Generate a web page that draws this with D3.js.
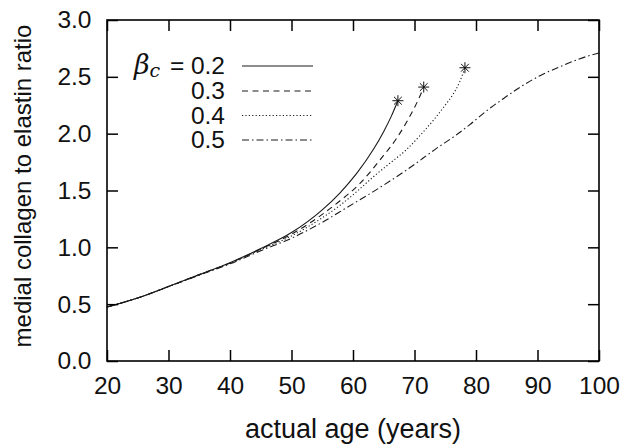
<!DOCTYPE html>
<html>
<head>
<meta charset="utf-8">
<script src="https://cdn.jsdelivr.net/npm/d3@7/dist/d3.min.js"></script>
<style>
  html, body { margin: 0; padding: 0; background: #fff; }
  svg { display: block; }
  text { font-family: "Liberation Sans", Arial, Helvetica, sans-serif; fill: #111; }
</style>
</head>
<body>
<svg id="chart" width="629" height="448"></svg>
<script>
// ---------- data ----------
const xTicks = [20, 30, 40, 50, 60, 70, 80, 90, 100];
const yTicks = [0.0, 0.5, 1.0, 1.5, 2.0, 2.5, 3.0];
const betaLabels = ["0.2", "0.3", "0.4", "0.5"];

const ages02 = [20, 25, 30, 35, 40, 45, 50, 55, 57.9, 60.6, 63.3, 65, 66.2, 67.3];
const vals02 = [0.475, 0.555, 0.655, 0.76, 0.865, 0.99, 1.13, 1.33, 1.48, 1.65, 1.86, 2.02, 2.15, 2.29];

const ages03 = [20, 25, 30, 35, 40, 45, 50, 55, 57.9, 61.1, 64.4, 67.1, 68.7, 70, 70.8, 71.5];
const vals03 = [0.475, 0.555, 0.655, 0.76, 0.862, 0.985, 1.115, 1.29, 1.41, 1.56, 1.77, 1.96, 2.10, 2.23, 2.32, 2.41];

const ages04 = [20, 25, 30, 35, 40, 45, 50, 55, 57.9, 60.6, 63.3, 66, 68.7, 71, 73.1, 74.7, 76.3, 77.3, 78.2];
const vals04 = [0.475, 0.555, 0.655, 0.758, 0.86, 0.98, 1.10, 1.26, 1.37, 1.49, 1.62, 1.74, 1.86, 1.99, 2.12, 2.23, 2.35, 2.45, 2.58];

const ages05 = [20, 25, 30, 35, 40, 45, 50, 55, 59, 63.3, 68.7, 74.1, 76.3, 79, 81.7, 84.5, 87.2, 90.4, 93.7, 96.9, 100];
const vals05 = [0.475, 0.555, 0.655, 0.755, 0.855, 0.97, 1.08, 1.22, 1.35, 1.49, 1.68, 1.89, 1.97, 2.08, 2.20, 2.31, 2.41, 2.51, 2.59, 2.66, 2.71];

const dashes = ["none", "6,4.5", "1.2,2.2", "7,3,1.5,3"];
const hasStar = [true, true, true, false];

const series = [
  { ages: ages02, vals: vals02 },
  { ages: ages03, vals: vals03 },
  { ages: ages04, vals: vals04 },
  { ages: ages05, vals: vals05 }
];

// ---------- layout ----------
const W = 629, H = 448;
const margin = { left: 107, right: 30, top: 20, bottom: 87 };
const svg = d3.select("#chart");

const x = d3.scaleLinear().domain([20, 100]).range([margin.left, W - margin.right]);
const y = d3.scaleLinear().domain([0, 3]).range([H - margin.bottom, margin.top]);

const tickLen = 11;
const fontSize = 24.5;

// curves
const line = d3.line()
  .x(d => x(d[0]))
  .y(d => y(d[1]))
  .curve(d3.curveMonotoneX);

const plot = svg.append("g");
series.forEach((s, i) => {
  const pts = s.ages.map((a, k) => [a, s.vals[k]]);
  plot.append("path")
    .attr("d", line(pts))
    .attr("fill", "none")
    .attr("stroke", "#1a1a1a")
    .attr("stroke-width", 1.1)
    .attr("stroke-dasharray", dashes[i]);
  if (hasStar[i]) {
    const last = pts[pts.length - 1];
    const r = 5.5;
    const star = d3.path();
    for (let a = 0; a < 4; a++) {
      const ang = a * Math.PI / 4;
      star.moveTo(-r * Math.cos(ang), -r * Math.sin(ang));
      star.lineTo(r * Math.cos(ang), r * Math.sin(ang));
    }
    plot.append("path")
      .attr("transform", `translate(${x(last[0])},${y(last[1])})`)
      .attr("d", star.toString())
      .attr("fill", "none")
      .attr("stroke", "#111")
      .attr("stroke-width", 1);
  }
});

// axes (inward ticks, mirrored)
const axisStyle = g => {
  g.select(".domain").remove();
  g.selectAll(".tick line").attr("stroke", "#000").attr("stroke-width", 1.5);
  g.selectAll(".tick text").attr("font-size", fontSize).attr("font-family", "Liberation Sans, Arial, sans-serif").attr("fill", "#111");
};

svg.append("g")
  .attr("transform", `translate(0,${y(0)})`)
  .call(d3.axisBottom(x).tickValues(xTicks).tickFormat(d3.format("d")).tickSizeInner(-tickLen).tickSizeOuter(0).tickPadding(16))
  .call(axisStyle);

svg.append("g")
  .attr("transform", `translate(0,${y(3)})`)
  .call(d3.axisTop(x).tickValues(xTicks).tickFormat("").tickSizeInner(-tickLen).tickSizeOuter(0))
  .call(axisStyle);

svg.append("g")
  .attr("transform", `translate(${x(20)},0)`)
  .call(d3.axisLeft(y).tickValues(yTicks).tickFormat(d3.format(".1f")).tickSizeInner(-tickLen).tickSizeOuter(0).tickPadding(15.5))
  .call(axisStyle);

svg.append("g")
  .attr("transform", `translate(${x(100)},0)`)
  .call(d3.axisRight(y).tickValues(yTicks).tickFormat("").tickSizeInner(-tickLen).tickSizeOuter(0))
  .call(axisStyle);

// border
svg.append("rect")
  .attr("x", x(20)).attr("y", y(3))
  .attr("width", x(100) - x(20)).attr("height", y(0) - y(3))
  .attr("fill", "none").attr("stroke", "#000").attr("stroke-width", 1.6);

// axis titles
svg.append("text")
  .attr("x", (x(20) + x(100)) / 2)
  .attr("y", 438)
  .attr("text-anchor", "middle")
  .attr("font-size", 27)
  .text("actual age (years)");

svg.append("text")
  .attr("transform", `translate(31,186) rotate(-90)`)
  .attr("text-anchor", "middle")
  .attr("font-size", 24)
  .text("medial collagen to elastin ratio");

// legend
const legY = [74, 99, 123.5, 148];
const leg = svg.append("g");
betaLabels.forEach((lab, i) => {
  leg.append("text")
    .attr("x", 225).attr("y", legY[i])
    .attr("text-anchor", "end")
    .attr("font-size", fontSize)
    .text(lab);
  leg.append("line")
    .attr("x1", 242).attr("x2", 313)
    .attr("y1", legY[i] - 8).attr("y2", legY[i] - 8)
    .attr("stroke", "#1a1a1a")
    .attr("stroke-width", 1.1)
    .attr("stroke-dasharray", dashes[i]);
});
const bt = leg.append("text").attr("x", 134).attr("y", 74).attr("font-size", 27);
bt.append("tspan").attr("font-family", "DejaVu Serif, serif").attr("font-style", "italic").text("β");
bt.append("tspan").attr("font-family", "DejaVu Serif, serif").attr("font-style", "italic").attr("font-size", 19).attr("dy", 3).text("c");
leg.append("text").attr("x", 170).attr("y", 74).attr("font-size", fontSize).text("=");
</script>
</body>
</html>
